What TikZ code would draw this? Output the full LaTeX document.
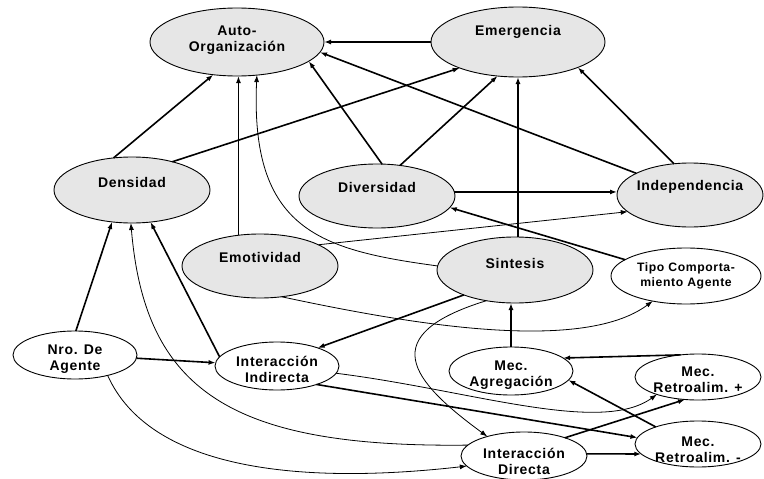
\documentclass[tikz,border=0pt]{standalone}
\usepackage{fontspec}
\setmainfont{Liberation Sans}[LetterSpace=5]
\usetikzlibrary{shapes.geometric,arrows.meta}
\definecolor{gfill}{HTML}{E6E6E6}
\begin{document}
\begin{tikzpicture}[x=1pt,y=-1pt,
  gell/.style={ellipse, draw, line width=0.9pt, fill=gfill, inner sep=0pt, outer sep=0pt},
  well/.style={ellipse, draw, line width=0.9pt, fill=white, inner sep=0pt, outer sep=0pt},
  lbl/.style={font=\bfseries\fontsize{14}{16}\selectfont, align=center, inner sep=0pt},
  slbl/.style={font=\bfseries\fontsize{12.2}{15}\selectfont, align=center, inner sep=0pt},
  tlink/.style={line width=1.6pt, -{Latex[length=7pt,width=5pt]}},
  flink/.style={line width=0.8pt, -{Latex[length=7pt,width=5pt]}}]
\clip (0,0) rectangle (764,479);
\fill[white] (0,0) rectangle (764,479);

% concepts (grey)
\node[gell, minimum width=174pt, minimum height=68pt,
  label={[lbl,yshift=2pt]center:{Auto-\\Organización}}] (auto) at (237,42) {};
\node[gell, minimum width=174pt, minimum height=70pt,
  label={[lbl,yshift=10pt]center:Emergencia}] (emer) at (518,42) {};
\node[gell, minimum width=156pt, minimum height=66pt,
  label={[lbl,yshift=8pt]center:Densidad}] (den) at (132,190) {};
\node[gell, minimum width=156pt, minimum height=64pt,
  label={[lbl,yshift=9pt]center:Diversidad}] (div) at (377,196) {};
\node[gell, minimum width=146pt, minimum height=64pt,
  label={[lbl,yshift=8pt]center:Independencia}] (ind) at (690,195) {};
\node[gell, minimum width=156pt, minimum height=64pt,
  label={[lbl,yshift=9pt]center:Emotividad}] (emo) at (260,266) {};
\node[gell, minimum width=156pt, minimum height=66pt,
  label={[lbl,yshift=7pt]center:Sintesis}] (sin) at (515,270) {};

% mechanisms (white)
\node[well, minimum width=150pt, minimum height=56pt,
  label={[slbl]center:{Tipo Comporta-\\miento Agente}}] (tipo) at (686,276) {};
\node[well, minimum width=124pt, minimum height=48pt,
  label={[lbl,yshift=-4.5pt]center:{Nro. De\\Agente}}] (nro) at (75,355) {};
\node[well, minimum width=124pt, minimum height=48pt,
  label={[lbl,yshift=-3.5pt]center:{Interacción\\Indirecta}}] (ii) at (277,366) {};
\node[well, minimum width=124pt, minimum height=48pt,
  label={[lbl,yshift=-4.5pt]center:{Mec.\\Agregación}}] (agr) at (511,371) {};
\node[well, minimum width=126pt, minimum height=46pt,
  label={[lbl,yshift=-3pt]center:{Mec.\\Retroalim. +}}] (rp) at (698,377) {};
\node[well, minimum width=126pt, minimum height=46pt,
  label={[lbl,yshift=-5.5pt]center:{Mec.\\Retroalim. -}}] (rm) at (698,444) {};
\node[well, minimum width=126pt, minimum height=48pt,
  label={[lbl,yshift=-5.5pt]center:{Interacción\\Directa}}] (id) at (524,456) {};

% influences
\draw[tlink] (emer.west) -- (auto.east);
\draw[tlink] (den.120.7) -- (auto.234.8);
\draw[tlink] (emo.125.6) -- (emo.125.6 |- auto.south);
\draw[flink] (sin.177.8) .. controls (320,250) and (250,230) .. (auto.301.1);
\draw[tlink] (div.81.1) -- (auto.345.3);
\draw[tlink] (ind.158.4) -- (auto.353.1);
\draw[tlink] (den.35.4) -- (emer.204.9);
\draw[tlink] (div.53.1) -- (emer.239.6);
\draw[tlink] (emer.south |- sin.north) -- (emer.south);
\draw[tlink] (ind.117.1) -- (emer.337.6);
\draw[tlink] (div.3.7) -- (div.3.7 -| ind.west);
\draw[flink] (emo.20.1) -- (ind.195);
\draw[tlink] (tipo.165.7) -- (div.351.5);
\draw[flink] (emo.305.6) .. controls (400,322) and (580,355) .. (tipo.217.3);
\draw[tlink] (sin.206.1) -- (ii.24.9);
\draw[flink] (sin.227.7) .. controls (375,335) and (410,380) .. (id.152.3);
\draw[tlink] (agr.north) -- (agr.north |- sin.south);
\draw[tlink] (rp.128) -- (agr.14.3);
\draw[tlink] (rm.158.7) -- (agr.351);
\draw[tlink] (ii.335.8) -- (rm.174.1);
\draw[flink] (ii.353.5) .. controls (470,390) and (600,435) .. (rp.203);
\draw[tlink] (id.24.9) -- (rp.240);
\draw[tlink] (id.2) -- (rm.190);
\draw[tlink] (nro.88) -- (den.238);
\draw[tlink] (ii.171.3) -- (den.300.7);
\draw[tlink] (nro.357) -- (ii.177);
\draw[flink] (id.169.8) .. controls (230,448) and (145,390) .. (den.268);
\draw[flink] (nro.328.4) .. controls (150,470) and (300,485) .. (id.190);
\end{tikzpicture}
\end{document}
